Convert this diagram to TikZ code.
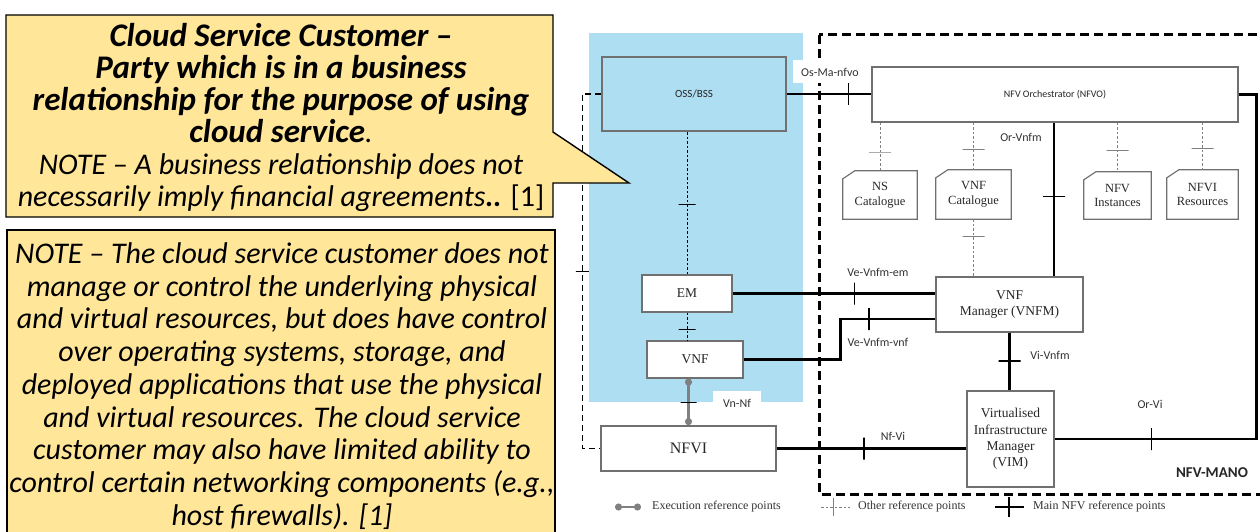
\documentclass[tikz,border=0pt]{standalone}
\usepackage{fontspec}
\setmainfont{Carlito}
\newfontfamily\boxfont{Liberation Serif}
\usetikzlibrary{arrows.meta, positioning, calc}

\definecolor{notefill}{RGB}{255,230,153}
\definecolor{custblue}{RGB}{174,222,242}
\definecolor{boxgray}{RGB}{112,112,112}
\definecolor{execgray}{RGB}{128,128,128}

% bold lines of the definition are set a little larger
\newcommand{\ccbold}[1]{{\bfseries\fontsize{33}{32}\selectfont #1}}

\tikzset{
  fblock/.style={draw=boxgray, line width=1.2pt, fill=white, inner sep=0pt, align=center,
    text=black!85, font=\boxfont\fontsize{13.5}{16.3}\selectfont},
  catblock/.style={inner sep=0pt, align=center, text=black!85,
    font=\boxfont\fontsize{12.5}{14.5}\selectfont},
  mainref/.style={line width=2.6pt, black},
  otherref/.style={line width=1pt, draw=gray, dash pattern=on 2.5pt off 2pt},
  outerref/.style={line width=1.8pt, black, dash pattern=on 6pt off 4pt},
  execref/.style={line width=2.4pt, draw=execgray, {Circle[length=7pt]}-{Circle[length=7pt]}},
  vtick/.style={draw=black, solid, line width=1.2pt, inner sep=0pt, minimum width=0pt, minimum height=22pt},
  htick/.style={draw=black, solid, line width=1.2pt, inner sep=0pt, minimum height=0pt, minimum width=22pt},
  otick/.style={htick, draw=gray, line width=1pt},
  reflabel/.style={fill=white, inner sep=2pt, text=black!80, font=\fontsize{12}{14}\selectfont},
  legtext/.style={anchor=west, inner sep=0pt, text=black!80, font=\boxfont\fontsize{12}{14}\selectfont},
  manobox/.style={line width=3pt, dash pattern=on 9pt off 5pt},
  notebox/.style={draw=black, line width=1.4pt, fill=notefill},
  notetext/.style={align=center, inner sep=0pt, font=\itshape\fontsize{30}{32}\selectfont},
}

\begin{document}
\begin{tikzpicture}[x=1pt, y=-1pt]
  \clip (0,0) rectangle (1260,532);

  % customer side
  \fill[custblue] (589,33) rectangle (803,402);

  % functional blocks
  \node[fblock, fill=none, minimum width=184pt, minimum height=74pt, font=\fontsize{11}{13}\selectfont] (oss) at (694,94) {OSS/BSS};
  \node[fblock, minimum width=366pt, minimum height=55pt, font=\fontsize{10}{12}\selectfont] (nfvo) at (1055,94.5) {NFV Orchestrator (NFVO)};
  \node[fblock, minimum width=147pt, minimum height=55pt] (vnfm) at (1009.5,304.5) {VNF\\Manager (VNFM)};
  \node[fblock, minimum width=87pt, minimum height=96pt] (vim) at (1010.5,439) {Virtualised\\Infrastructure\\Manager\\(VIM)};
  \node[fblock, minimum width=90pt, minimum height=37pt] (em) at (687,293.5) {EM};
  \node[fblock, minimum width=96pt, minimum height=37pt] (vnf) at (695,359.5) {VNF};
  \node[fblock, minimum width=175pt, minimum height=45pt, line width=1.8pt, font=\boxfont\fontsize{16}{18}\selectfont] (nfvi) at (688.5,448.5) {NFVI};

  % repositories
  \node[catblock, minimum width=74pt, minimum height=48pt] (nscat) at (880,195) {NS\\Catalogue};
  \node[catblock, minimum width=75pt, minimum height=49pt] (vnfcat) at (973.5,194.5) {VNF\\Catalogue};
  \node[catblock, minimum width=67pt, minimum height=47pt] (nfvinst) at (1117.5,195.5) {NFV\\Instances};
  \node[catblock, minimum width=71pt, minimum height=49pt] (nfvires) at (1202.5,194.5) {NFVI\\Resources};
  \foreach \c in {nscat, vnfcat, nfvinst, nfvires}
    \draw[boxgray, line width=1.2pt] ([yshift=-8pt]\c.north west) -- ([xshift=12pt]\c.north west)
      -- (\c.north east) -- (\c.south east) -- (\c.south west) -- cycle;

  % main NFV reference points
  \draw[mainref] (oss.east) -- node[vtick, pos=.73] {} (oss.east -| nfvo.west);
  \draw[mainref] (nfvo.east) -- ++(18,0) coordinate (vicorner) -- (vicorner |- vim.east)
    -- node[vtick, pos=.52] {} (vim.east);
  \draw[mainref] ([xshift=44.5pt]vnfm.north) -- node[htick, pos=.52] {} ([xshift=44.5pt]vnfm.north |- nfvo.south);
  \draw[mainref] (vnfm.south) -- node[htick, pos=.49] {} (vnfm.south |- vim.north);
  \draw[mainref] (em.east) -- node[vtick, pos=.6] {} (em.east -| vnfm.west);
  \draw[mainref] (vnf.east) -- ++(97,0) coordinate (vnfstep) |- node[vtick, pos=.65] {} ($(vnfm.west)+(0,14.5)$);
  \draw[mainref] (nfvi.east) -- node[vtick, pos=.46] {} (nfvi.east -| vim.west);

  % other reference points
  \draw[otherref] (nfvo.south -| nscat.north) -- node[otick, pos=.61] {} (nscat.north);
  \draw[otherref] (nfvo.south -| vnfcat.north) -- node[otick, pos=.58] {} (vnfcat.north);
  \draw[otherref] (vnfcat.south) -- node[otick, pos=.3] {} (vnfcat.south |- vnfm.north);
  \draw[otherref] (nfvo.south -| nfvinst.north) -- node[otick, pos=.56] {} (nfvinst.north);
  \draw[otherref] (nfvo.south -| nfvires.north) -- node[otick, pos=.54] {} (nfvires.north);
  \draw[otherref, black] (em.north) -- node[htick, minimum width=17pt, pos=.49] {} (em.north |- oss.south);
  \draw[otherref, black] (em.south) -- node[htick, minimum width=17pt, pos=.62] {} (em.south |- vnf.north);
  \draw[outerref] (oss.west) -- ++(-19,0) coordinate (osscorner)
    -- node[htick, minimum width=13pt, line width=1pt, pos=.5] {} (osscorner |- nfvi.west) -- (nfvi.west);

  % execution reference point
  \draw[execref] (nfvi.north) -- node[htick, minimum width=16pt, pos=.48] {} (nfvi.north |- vnf.south);

  % NFV-MANO boundary
  \draw[manobox] (819,35) rectangle (1272,494);
  \node[font=\bfseries\fontsize{15}{17}\selectfont, text=black!85] (mano) at (1212,473) {NFV-MANO};

  % reference point names
  \node[reflabel, minimum width=75pt, minimum height=23pt] (osmanfvo) at (830,72) {Os-Ma-nfvo};
  \node[reflabel] (orvnfm) at (1021,137) {Or-Vnfm};
  \node[reflabel] (vevnfmem) at (878,272) {Ve-Vnfm-em};
  \node[reflabel] (vevnfmvnf) at (878,342) {Ve-Vnfm-vnf};
  \node[reflabel] (vivnfm) at (1050,355) {Vi-Vnfm};
  \node[reflabel] (nfvi-vi) at (893,436) {Nf-Vi};
  \node[reflabel] (orvi) at (1150,404) {Or-Vi};
  \node[reflabel, minimum width=48pt, minimum height=24pt] (vnnf) at (737,403) {Vn-Nf};

  % legend
  \node[legtext] (legexec) at (652,507) {Execution reference points};
  \draw[execref, line width=2pt] ([xshift=-37pt]legexec.west) -- ([xshift=-11pt]legexec.west);
  \node[legtext] (legother) at (858,507) {Other reference points};
  \draw[otherref] ([xshift=-37pt]legother.west) -- ([xshift=-8pt]legother.west);
  \draw[gray, line width=1pt] ([xshift=-25pt,yshift=-9pt]legother.west) -- ([xshift=-25pt,yshift=9pt]legother.west);
  \node[legtext] (legmain) at (1033,507) {Main NFV reference points};
  \draw[mainref] ([xshift=-38pt]legmain.west) -- ([xshift=-9pt]legmain.west);
  \draw[black, line width=1.2pt] ([xshift=-24pt,yshift=-10pt]legmain.west) -- ([xshift=-24pt,yshift=10pt]legmain.west);

  % cloud service customer notes
  \draw[notebox] (6,15) -- (553,15) -- (553,132) -- (629,183) -- (553,183) -- (553,217) -- (6,217) -- cycle;
  \node[notetext] (ccdef) at (281,117) {%
    \ccbold{Cloud Service Customer –}\\
    \ccbold{Party which is in a business}\\
    \ccbold{relationship for the purpose of using}\\
    \ccbold{cloud service}.\\
    NOTE – A business relationship does not\\
    necessarily imply financial agreements\textbf{..} \textup{[1]}};
  \draw[notebox] (7,230) rectangle (555,545);
  \node[notetext, font=\itshape\fontsize{30}{32.7}\selectfont] (ccnote) at (282,386) {%
    NOTE – The cloud service customer does not\\
    manage or control the underlying physical\\
    and virtual resources, but does have control\\
    over operating systems, storage, and\\
    deployed applications that use the physical\\
    and virtual resources. The cloud service\\
    customer may also have limited ability to\\
    control certain networking components (e.g.,\\
    host firewalls). [1]};
\end{tikzpicture}
\end{document}
